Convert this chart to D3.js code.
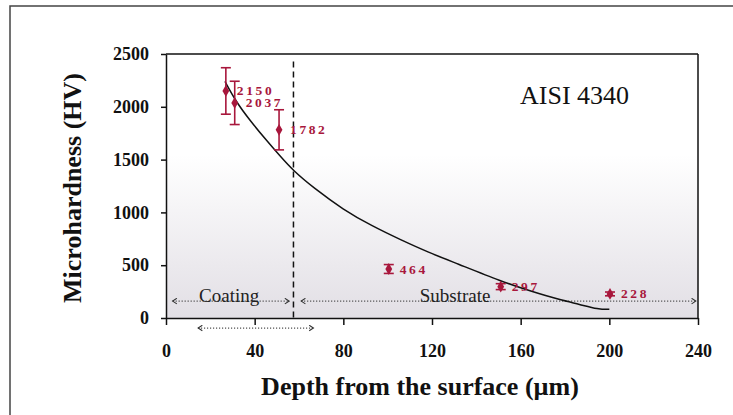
<!DOCTYPE html>
<html><head><meta charset="utf-8">
<script src="https://cdn.jsdelivr.net/npm/d3@7"></script>
<style>body{margin:0;background:#fff;} svg{display:block}</style>
</head><body><svg id="c" width="733" height="415"></svg>
<script>
// ---- data ----
const depth = [27, 31, 51, 100.5, 151, 200.3];
const hardness = [2150, 2037, 1782, 464, 297, 228];
const errors = [220, 205, 190, 42, 28, 18];
const pointLabels = ["2150", "2037", "1782", "464", "297", "228"];
const curveDepth = [26.6, 31.6, 37.9, 45.4, 51.4, 57.4, 66.4, 80, 93, 106, 118, 131, 151.5, 165, 178, 186.5, 195, 200];
const curveHV = [2240, 2048, 1870, 1680, 1535, 1395, 1235, 1025, 870, 739, 625, 518, 345, 250, 170, 130, 82, 82];
const xTicks = [0, 40, 80, 120, 160, 200, 240];
const yTicks = [0, 500, 1000, 1500, 2000, 2500];
const interfaceDepth = 57.5;
const regionNames = ["Coating", "Substrate"];
const regionCenters = [28.5, 130.4];
const arrowStart = [3, 61, 14.5];
const arrowEnd = [55.5, 239, 66.5];
const arrowLevel = [160, 160, -95];
const material = "AISI 4340";
const xTitle = "Depth from the surface (\u00b5m)";
const yTitle = "Microhardness (HV)";

// ---- drawing ----
const svg = d3.select("#c");
const x = d3.scaleLinear().domain([0, 240]).range([166, 698]);
const y = d3.scaleLinear().domain([0, 2500]).range([318, 54]);
const red = "#a8173c";
const serif = "'Liberation Serif', 'Times New Roman', serif";

// outer frame
svg.append("path").attr("d", "M10,415 L10,6 L733,6").attr("fill", "none")
  .attr("stroke", "#444").attr("stroke-width", 1.5);

// plot background gradient
const defs = svg.append("defs");
const grad = defs.append("linearGradient").attr("id", "bg").attr("x1", 0).attr("y1", 0).attr("x2", 0).attr("y2", 1);
grad.append("stop").attr("offset", "0%").attr("stop-color", "#ffffff");
grad.append("stop").attr("offset", "38%").attr("stop-color", "#ffffff");
grad.append("stop").attr("offset", "100%").attr("stop-color", "#e2dfe5");
svg.append("rect").attr("x", x(0)).attr("y", y(2500)).attr("width", x(240) - x(0))
  .attr("height", y(0) - y(2500)).attr("fill", "url(#bg)");

// arrow markers
const mk = (id, d, ref) => defs.append("marker").attr("id", id).attr("viewBox", "0 0 10 10")
  .attr("refX", ref).attr("refY", 5).attr("markerWidth", 7).attr("markerHeight", 7)
  .attr("markerUnits", "userSpaceOnUse").attr("orient", "auto")
  .append("path").attr("d", d).attr("fill", "none").attr("stroke", "#333").attr("stroke-width", 1.6);
mk("ah", "M2,1 L8,5 L2,9", 8);
mk("as", "M8,1 L2,5 L8,9", 2);

// frame top + right
svg.append("line").attr("x1", x(0)).attr("x2", x(240)).attr("y1", y(2500)).attr("y2", y(2500))
  .attr("stroke", "#111").attr("stroke-width", 1.5);
svg.append("line").attr("x1", x(240)).attr("x2", x(240)).attr("y1", y(2500)).attr("y2", y(0))
  .attr("stroke", "#111").attr("stroke-width", 1.5);

// axes
const xAxis = svg.append("g").attr("transform", `translate(0,${y(0)})`)
  .call(d3.axisBottom(x).tickValues(xTicks).tickFormat(d3.format("d")).tickSize(7).tickSizeOuter(0).tickPadding(19));
const yAxis = svg.append("g").attr("transform", `translate(${x(0)},0)`)
  .call(d3.axisLeft(y).tickValues(yTicks).tickFormat(d3.format("d")).tickSize(5).tickSizeOuter(0).tickPadding(12));
[xAxis, yAxis].forEach(a => {
  a.selectAll("path,line").attr("stroke", "#111").attr("stroke-width", 1.5);
  a.selectAll("text").attr("font-family", serif).attr("font-weight", "bold")
    .attr("font-size", 18).attr("fill", "#111");
});

// dotted arrows
arrowStart.forEach((s, i) => {
  svg.append("line").attr("x1", x(s)).attr("x2", x(arrowEnd[i]))
    .attr("y1", y(arrowLevel[i])).attr("y2", y(arrowLevel[i]))
    .attr("stroke", "#333").attr("stroke-width", 1.3).attr("stroke-dasharray", "1,2")
    .attr("marker-start", "url(#as)").attr("marker-end", "url(#ah)");
});

// region labels
regionNames.forEach((n, i) => {
  svg.append("text").attr("x", x(regionCenters[i])).attr("y", y(arrowLevel[i]) + 1)
    .attr("text-anchor", "middle").attr("font-family", serif).attr("font-size", 19)
    .attr("fill", "#222").text(n);
});

// interface dashed line
svg.append("line").attr("x1", x(interfaceDepth)).attr("x2", x(interfaceDepth))
  .attr("y1", y(2430)).attr("y2", y(0)).attr("stroke", "#111").attr("stroke-width", 1.5)
  .attr("stroke-dasharray", "6,4");

// fitted curve
const line = d3.line().x(d => x(d[0])).y(d => y(d[1])).curve(d3.curveBasis);
svg.append("path").datum(curveDepth.map((d, i) => [d, curveHV[i]]))
  .attr("d", line).attr("fill", "none").attr("stroke", "#111").attr("stroke-width", 1.5);

// error bars + points
const pts = depth.map((d, i) => ({ d, h: hardness[i], e: errors[i], l: pointLabels[i] }));
const g = svg.append("g");
pts.forEach(p => {
  const cx = x(p.d);
  g.append("line").attr("x1", cx).attr("x2", cx).attr("y1", y(p.h + p.e)).attr("y2", y(p.h - p.e))
    .attr("stroke", red).attr("stroke-width", 1.6);
  [p.h + p.e, p.h - p.e].forEach(v => g.append("line").attr("x1", cx - 5).attr("x2", cx + 5)
    .attr("y1", y(v)).attr("y2", y(v)).attr("stroke", red).attr("stroke-width", 1.6));
  g.append("path").attr("d", d3.symbol().type(d3.symbolDiamond).size(40)())
    .attr("transform", `translate(${cx},${y(p.h)})`).attr("fill", red);
  g.append("text").attr("x", cx + 11).attr("y", y(p.h) + 4.5)
    .attr("font-family", serif).attr("font-weight", "bold").attr("font-size", 13.5)
    .attr("letter-spacing", 2.6).attr("fill", red).text(p.l);
});

// material label
svg.append("text").attr("x", 520).attr("y", 104).attr("font-family", serif)
  .attr("font-size", 26).attr("fill", "#111").text(material);

// axis titles
svg.append("text").attr("x", 420).attr("y", 395).attr("text-anchor", "middle")
  .attr("font-family", serif).attr("font-weight", "bold").attr("font-size", 26)
  .attr("fill", "#111").text(xTitle);
svg.append("text").attr("transform", "translate(81,188) rotate(-90)").attr("text-anchor", "middle")
  .attr("font-family", serif).attr("font-weight", "bold").attr("font-size", 26)
  .attr("fill", "#111").text(yTitle);
</script></body></html>
